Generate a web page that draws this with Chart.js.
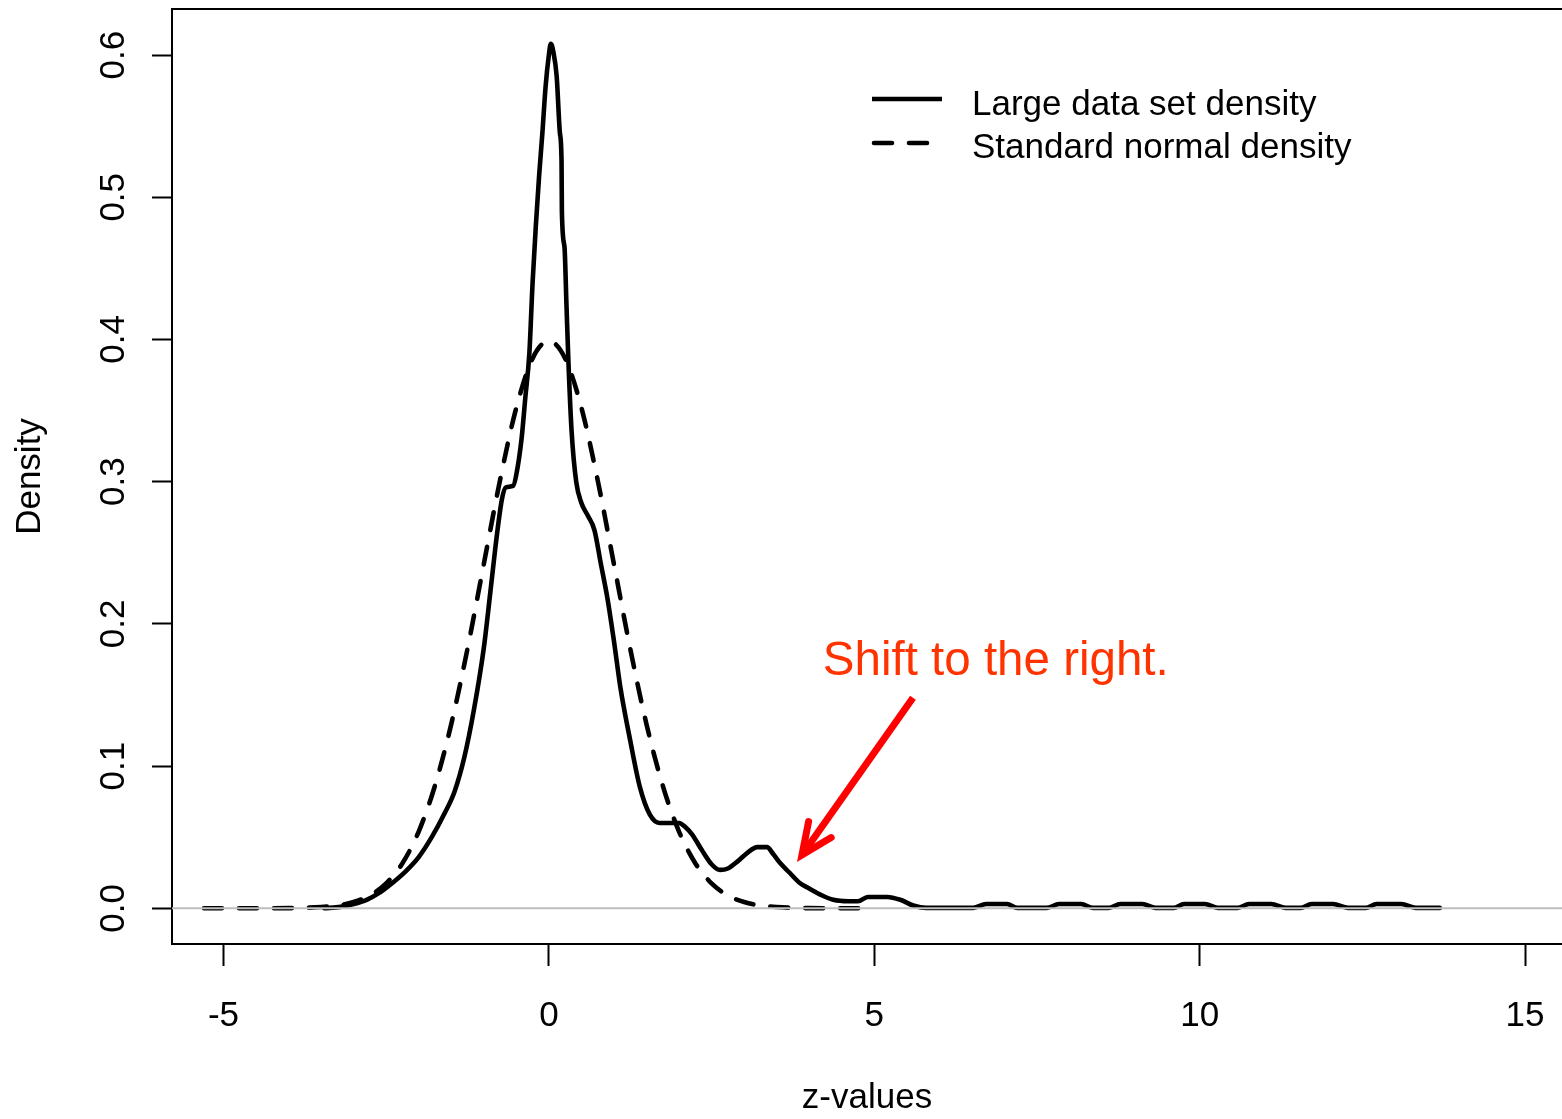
<!DOCTYPE html>
<html><head><meta charset="utf-8">
<script src="https://cdn.jsdelivr.net/npm/chart.js@4/dist/chart.umd.min.js"></script>
<style>html,body{margin:0;padding:0;background:#fff;overflow:hidden}</style>
</head><body>
<canvas id="c" width="1562" height="1119"></canvas>
<script>
// ---- data ----
const xTicks = [-5, 0, 5, 10, 15];
const yTicks = [0, 0.1, 0.2, 0.3, 0.4, 0.5, 0.6];
const seriesNames = ['Large data set density', 'Standard normal density'];
const xTitle = 'z-values';
const yTitle = 'Density';
const annotationText = 'Shift to the right.';
const annotationTextAt = [4.21, 0.164];
const arrowFrom = [5.595, 0.148];
const arrowTo = [3.889, 0.0375];

const largeZ = [-3.45,-3.2,-3.0,-2.8,-2.6,-2.4,-2.2,-2.0,-1.8,-1.6,-1.45,-1.3,-1.15,-1.0,-0.9,-0.8,-0.72,-0.66,-0.55,-0.5,-0.42,-0.36,-0.3,-0.25,-0.2,-0.15,-0.1,-0.05,0.0,0.03,0.07,0.12,0.17,0.195,0.2,0.24,0.27,0.3,0.35,0.42,0.5,0.6,0.7,0.8,0.9,1.0,1.1,1.25,1.4,1.55,1.7,1.85,2.0,2.1,2.2,2.35,2.5,2.63,2.75,2.9,3.05,3.2,3.35,3.45,3.55,3.7,3.85,4.0,4.2,4.37,4.6,4.75,4.9,5.2,5.4,5.6,5.8,6.52,6.72,7.04,7.2,7.65,7.84,8.18,8.36,8.6,8.78,9.12,9.32,9.6,9.76,10.08,10.28,10.58,10.76,11.1,11.32,11.55,11.72,12.05,12.28,12.55,12.72,13.1,13.32,13.69];
const largeDensity = [0,0.001,0.003,0.006,0.011,0.018,0.026,0.036,0.050,0.067,0.082,0.106,0.140,0.183,0.222,0.262,0.288,0.296,0.297,0.305,0.330,0.360,0.390,0.440,0.480,0.515,0.545,0.578,0.600,0.608,0.602,0.585,0.545,0.525,0.490,0.465,0.425,0.385,0.335,0.300,0.285,0.276,0.266,0.242,0.218,0.188,0.155,0.118,0.085,0.066,0.060,0.060,0.060,0.057,0.052,0.041,0.031,0.027,0.028,0.033,0.039,0.043,0.043,0.038,0.032,0.025,0.018,0.014,0.009,0.006,0.005,0.005,0.008,0.008,0.006,0.002,0.0003,0.0003,0.003,0.003,0.0003,0.0003,0.003,0.003,0.0003,0.0003,0.003,0.003,0.0003,0.0003,0.003,0.003,0.0003,0.0003,0.003,0.003,0.0003,0.0003,0.003,0.003,0.0003,0.0003,0.003,0.003,0.0003,0.0003];

const normalZ = [-5.3,-4.5,-4.0,-3.5,-3.25,-3.0,-2.75,-2.5,-2.25,-2.0,-1.75,-1.5,-1.25,-1.0,-0.75,-0.5,-0.25,0.0,0.25,0.5,0.75,1.0,1.25,1.5,1.75,2.0,2.25,2.5,2.75,3.0,3.25,3.5,4.0,4.8];
const normalDensity = [0,0,0.0001,0.0009,0.002,0.0044,0.0091,0.0175,0.0317,0.054,0.0863,0.1295,0.1826,0.242,0.3011,0.3521,0.3867,0.3989,0.3867,0.3521,0.3011,0.242,0.1826,0.1295,0.0863,0.054,0.0317,0.0175,0.0091,0.0044,0.002,0.0009,0.0001,0];

// ---- drawing ----
const FONT = '"Liberation Sans", Arial, Helvetica, sans-serif';
const LW = 4.6;
const pts = (xs, ys) => xs.map((x, i) => ({x, y: ys[i]}));

const overlay = {
  id: 'overlay',
  afterDatasetsDraw(chart) {
    const {ctx, chartArea: a, scales: {x, y}} = chart;
    ctx.save();
    // zero reference line
    const y0 = y.getPixelForValue(0);
    ctx.strokeStyle = '#bebebe'; ctx.lineWidth = 2;
    ctx.beginPath(); ctx.moveTo(a.left, y0); ctx.lineTo(a.right, y0); ctx.stroke();
    // top border of box
    ctx.strokeStyle = '#000'; ctx.lineWidth = 2;
    ctx.beginPath(); ctx.moveTo(a.left - 1, a.top); ctx.lineTo(a.right, a.top); ctx.stroke();
    // legend
    ctx.lineWidth = LW; ctx.lineCap = 'butt';
    ctx.beginPath(); ctx.moveTo(872, 99); ctx.lineTo(942, 99); ctx.stroke();
    ctx.lineCap = 'round';
    ctx.setLineDash([18, 17]);
    ctx.beginPath(); ctx.moveTo(874, 143); ctx.lineTo(942, 143); ctx.stroke();
    ctx.setLineDash([]);
    ctx.fillStyle = '#000'; ctx.font = '35px ' + FONT;
    ctx.textAlign = 'left'; ctx.textBaseline = 'middle';
    ctx.fillText(seriesNames[0], 972, 105);
    ctx.fillText(seriesNames[1], 972, 148);
    // annotation text
    ctx.fillStyle = '#ff3300'; ctx.font = '47.5px ' + FONT;
    ctx.textBaseline = 'alphabetic';
    ctx.fillText(annotationText, x.getPixelForValue(annotationTextAt[0]), y.getPixelForValue(annotationTextAt[1]));
    // arrow
    const x1 = x.getPixelForValue(arrowFrom[0]), y1 = y.getPixelForValue(arrowFrom[1]);
    const x2 = x.getPixelForValue(arrowTo[0]), y2 = y.getPixelForValue(arrowTo[1]);
    ctx.strokeStyle = '#ff0000'; ctx.lineWidth = 7; ctx.lineCap = 'butt';
    ctx.beginPath(); ctx.moveTo(x1, y1); ctx.lineTo(x2, y2); ctx.stroke();
    const ang = Math.atan2(y1 - y2, x1 - x2), L = 34, spread = 24 * Math.PI / 180;
    ctx.lineCap = 'round'; ctx.lineJoin = 'miter';
    ctx.beginPath();
    ctx.moveTo(x2 + L * Math.cos(ang - spread), y2 + L * Math.sin(ang - spread));
    ctx.lineTo(x2, y2);
    ctx.lineTo(x2 + L * Math.cos(ang + spread), y2 + L * Math.sin(ang + spread));
    ctx.stroke();
    ctx.restore();
  }
};

new Chart(document.getElementById('c'), {
  type: 'line',
  data: {
    datasets: [
      {label: seriesNames[0], data: pts(largeZ, largeDensity), order: 2,
       borderColor: '#000', borderWidth: LW, pointRadius: 0, fill: false,
       cubicInterpolationMode: 'monotone', borderJoinStyle: 'round', borderCapStyle: 'round'},
      {label: seriesNames[1], data: pts(normalZ, normalDensity), order: 1,
       borderColor: '#000', borderWidth: LW, pointRadius: 0, fill: false, borderDash: [18, 17],
       cubicInterpolationMode: 'monotone', borderJoinStyle: 'round', borderCapStyle: 'round'}
    ]
  },
  options: {
    responsive: false, animation: false,
    layout: {padding: {top: 9, left: 0, right: 0, bottom: 0}},
    plugins: {legend: {display: false}, tooltip: {enabled: false}},
    scales: {
      x: {
        type: 'linear', min: -5.791, max: 15.568,
        afterBuildTicks: s => { s.ticks = xTicks.map(v => ({value: v})); },
        afterFit: s => { s.height = 175; s.paddingLeft = 0; s.paddingRight = 0; s.paddingTop = 0; s.paddingBottom = 0; },
        grid: {drawOnChartArea: false, drawTicks: true, tickLength: 22, tickColor: '#000', tickWidth: 2},
        border: {display: true, color: '#000', width: 2},
        ticks: {color: '#000', font: {family: FONT, size: 35}, padding: 29, maxRotation: 0, autoSkip: false,
                callback: v => String(v)},
        title: {display: true, text: xTitle, color: '#000', font: {family: FONT, size: 35}, padding: {top: 0, bottom: 0}}
      },
      y: {
        type: 'linear', min: -0.0251, max: 0.6324,
        afterBuildTicks: s => { s.ticks = yTicks.map(v => ({value: v})); },
        afterFit: s => { s.width = 172; s.paddingLeft = 0; s.paddingRight = 0; s.paddingTop = 0; s.paddingBottom = 0; },
        grid: {drawOnChartArea: false, drawTicks: true, tickLength: 20, tickColor: '#000', tickWidth: 2},
        border: {display: true, color: '#000', width: 2},
        ticks: {color: '#000', font: {family: FONT, size: 35}, padding: 13, minRotation: 90, maxRotation: 90,
                crossAlign: 'center', autoSkip: false, callback: v => Number(v).toFixed(1)},
        title: {display: true, text: yTitle, color: '#000', font: {family: FONT, size: 35}, padding: {top: 9, bottom: 0}}
      }
    }
  },
  plugins: [overlay]
});
</script>
</body></html>
